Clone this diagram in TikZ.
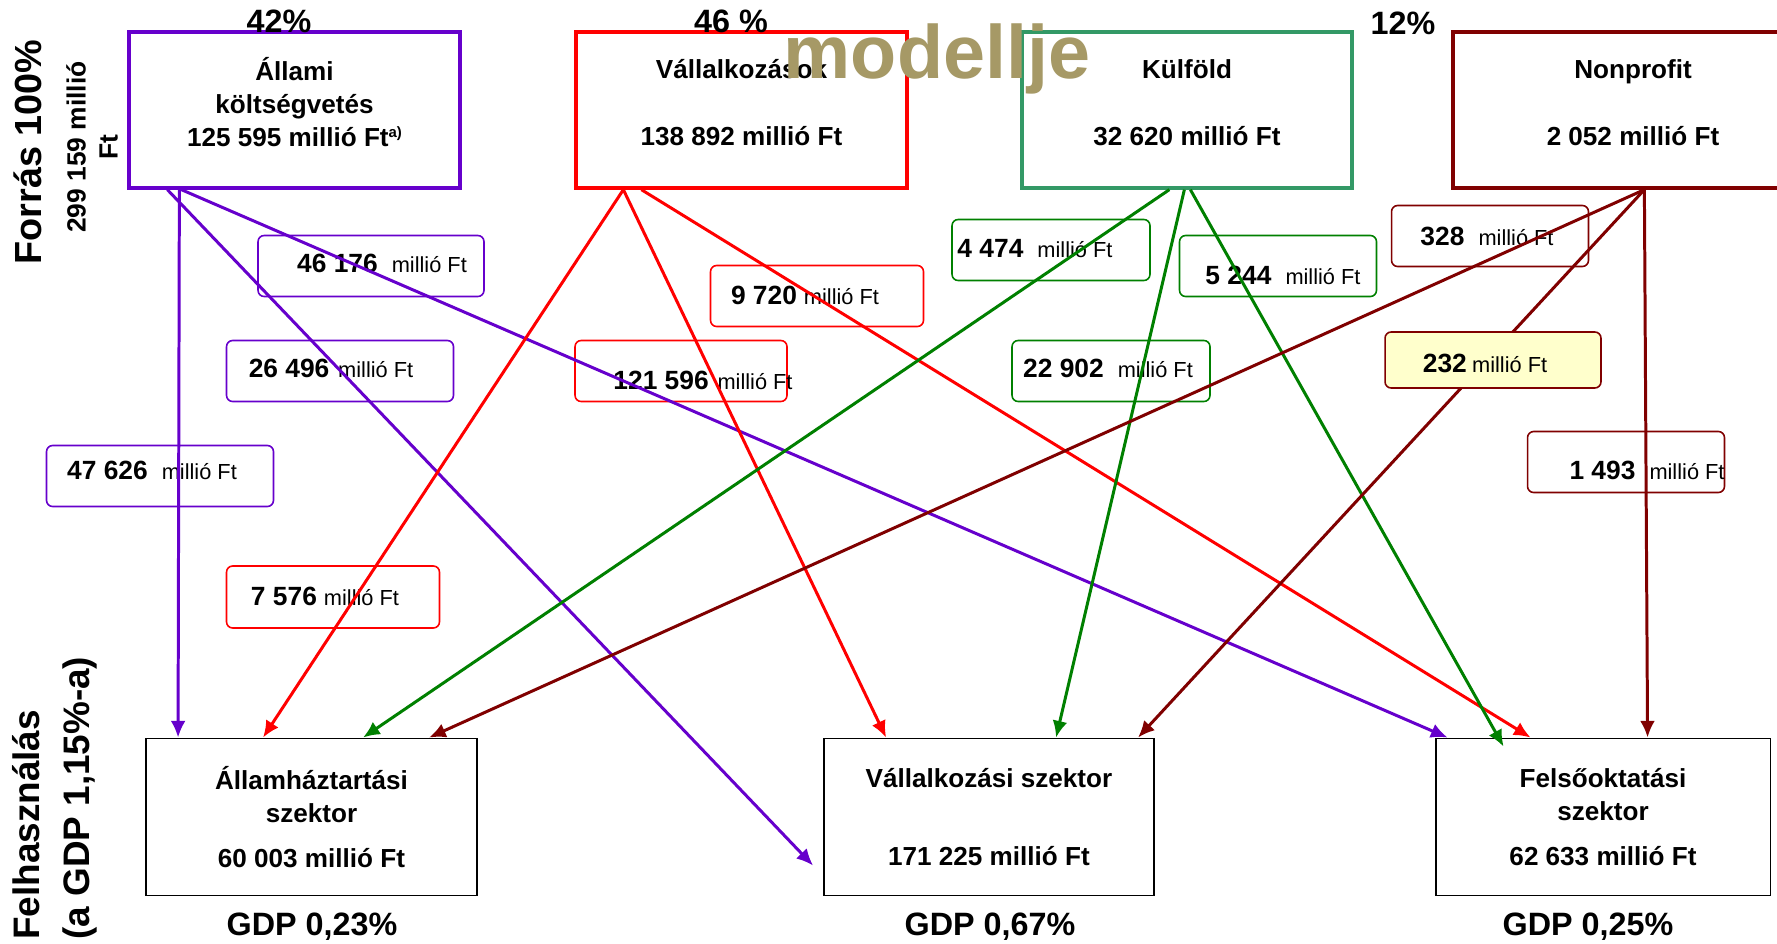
\documentclass[tikz,border=0pt]{standalone}
\usepackage{fontspec}
\setmainfont{Liberation Sans}
\usetikzlibrary{arrows.meta}
\usetikzlibrary{calc}

\definecolor{allamcol}{RGB}{102,0,204}
\definecolor{vallcol}{RGB}{255,0,0}
\definecolor{kulfcol}{RGB}{0,128,0}
\definecolor{kulfbox}{RGB}{51,153,102}
\definecolor{nonpcol}{RGB}{128,0,0}
\definecolor{sarga}{RGB}{255,255,204}
\definecolor{khaki}{RGB}{166,153,102}

\newcommand{\amt}[2][4pt]{\textbf{#2}\hspace{#1}{\fontsize{12.4}{14}\selectfont millió Ft}}

\begin{document}
\begin{tikzpicture}[x=0.02cm, y=-0.02cm,
    forras/.style={draw, line width=1.9pt, minimum width=6.62cm, minimum height=3.12cm, text depth=9pt, align=center, font=\fontsize{14.85}{18.8}\selectfont\bfseries},
    szektor/.style={draw, line width=1.1pt, minimum width=6.62cm, minimum height=3.14cm, align=center, font=\fontsize{14.85}{18.8}\selectfont\bfseries},
    osszeg/.style={draw, line width=0.9pt, rounded corners=3.5pt, minimum width=3.94cm, minimum height=1.22cm},
    felirat/.style={inner sep=0pt, font=\fontsize{15}{18}\selectfont},
    nyil/.style={line width=1.7pt, -{Latex[length=9.5pt, width=8.5pt]}},
    nagy/.style={inner sep=0pt, font=\fontsize{18.4}{22}\selectfont\bfseries}
]
\fill[white] (0,0) rectangle (1777,943);
\useasboundingbox (0,0) rectangle (1777,943);

% forrasok
\node[forras, draw=allamcol] (allami) at (294.5,110) {Állami\\költségvetés\\125 595 millió Ft\raisebox{5pt}{\fontsize{8.5}{9}\selectfont a)}};
\node[forras, draw=vallcol] (vallalk) at (741.5,110) {Vállalkozások\\[19.3pt]138 892 millió Ft};
\node[forras, draw=kulfbox, minimum width=6.6cm] (kulfold) at (1187,110) {Külföld\\[19.3pt]32 620 millió Ft};
\node[forras, draw=nonpcol, minimum width=7.2cm] (nonprofit) at (1633,110) {Nonprofit\\[19.3pt]2 052 millió Ft};

\node[nagy] (p42) at (279,21) {42\%};
\node[nagy] (p46) at (731,21) {46 \%};
\node[nagy] (p12) at (1403,23) {12\%};

% szektorok
\node[szektor] (ahsz) at (311.5,817) {Államháztartási\\szektor\\[6.8pt]60 003 millió Ft};
\node[szektor, minimum width=6.6cm] (vsz) at (989,817) {Vállalkozási szektor\\[25.6pt]171 225 millió Ft};
\node[szektor, minimum width=6.7cm] (fsz) at (1603,817) {Felsőoktatási\\szektor\\[6.8pt]62 633 millió Ft};

\node[nagy] (gdpa) at (312,927) {GDP 0,23\%};
\node[nagy] (gdpv) at (990,927) {GDP 0,67\%};
\node[nagy] (gdpf) at (1588,927) {GDP 0,25\%};

% bal oldali feliratok
\node[rotate=90, inner sep=0pt, font=\fontsize{21.5}{26}\selectfont\bfseries] (forrascim) at (28,152) {Forrás 100\%};
\node[rotate=90, inner sep=0pt, align=center, font=\fontsize{15}{18.2}\selectfont\bfseries] (forrasft) at (92,147) {299 159 millió\\Ft};
\node[rotate=90, anchor=west, inner sep=0pt, align=left, font=\fontsize{21}{28.5}\selectfont\bfseries] (felhaszn) at (55,940) {Felhasználás\\(a GDP 1,15\%-a)};

% osszegek
\node[osszeg, draw=allamcol, minimum width=4.52cm] (b46176) at (371,266) {};
\node[felirat] (t46176) at (382,263) {\amt[8pt]{46 176}};
\node[osszeg, draw=allamcol, minimum width=4.54cm] (b26496) at (340,371) {};
\node[felirat] (t26496) at (331,368) {\amt[5pt]{26 496}};
\node[osszeg, draw=allamcol, minimum width=4.54cm] (b47626) at (160,476) {};
\node[felirat] (t47626) at (152,470) {\amt[8pt]{47 626}};
\node[osszeg, draw=vallcol, minimum width=4.26cm, minimum height=1.24cm] (b7576) at (333,597) {};
\node[felirat] (t7576) at (325,596) {\amt{7 576}};
\node[osszeg, draw=vallcol, minimum width=4.26cm] (b9720) at (817,296) {};
\node[felirat] (t9720) at (805,295) {\amt{9 720}};
\node[osszeg, draw=vallcol, minimum width=4.24cm] (b121596) at (681,371) {};
\node[felirat] (t121596) at (703,380) {\amt[5pt]{121 596}};
\node[osszeg, draw=kulfcol, minimum width=3.96cm] (b4474) at (1051,250) {};
\node[felirat] (t4474) at (1035,249) {\amt[8pt]{4 474}};
\node[osszeg, draw=kulfcol] (b5244) at (1278,266) {};
\node[felirat] (t5244) at (1283,275) {\amt[8pt]{5 244}};
\node[osszeg, draw=kulfcol, minimum width=3.96cm] (b22902) at (1111,371) {};
\node[felirat] (t22902) at (1108,368) {\amt[8pt]{22 902}};
\node[osszeg, draw=nonpcol] (b328) at (1490,236) {};
\node[felirat] (t328) at (1487,236) {\amt[8pt]{328}};
\node[osszeg, draw=nonpcol] (b1493) at (1626,462) {};
\node[felirat] (t1493) at (1647,470) {\amt[8pt]{1 493}};

% nyilak
\draw[nyil, allamcol] ($(allami.south west)+(52,0)$) -- ($(ahsz.north west)+(33,0)$);
\draw[nyil, allamcol] ($(allami.south west)+(40,0)$) -- ($(vsz.north west)+(-10,128)$);
\draw[nyil, allamcol] ($(allami.south west)+(54,0)$) -- ($(fsz.north west)+(13,0)$);

\draw[nyil, vallcol] ($(vallalk.south west)+(49,0)$) -- ($(ahsz.north west)+(118,0)$);
\draw[nyil, vallcol] ($(vallalk.south west)+(49,0)$) -- ($(vsz.north west)+(63,0)$);
\draw[nyil, vallcol] ($(vallalk.south west)+(67,0)$) -- ($(fsz.north west)+(96,0)$);

\draw[nyil, kulfcol] ($(kulfold.south west)+(149,0)$) -- ($(ahsz.north west)+(218,0)$);
\draw[nyil, kulfcol] ($(kulfold.south west)+(164,0)$) -- ($(vsz.north west)+(233,0)$);
\draw[nyil, kulfcol] ($(kulfold.south west)+(170,0)$) -- ($(fsz.north west)+(69,9)$);

\draw[nyil, nonpcol] ($(nonprofit.south west)+(193,0)$) -- ($(ahsz.north west)+(284,0)$);
\draw[nyil, nonpcol] ($(nonprofit.south west)+(193,0)$) -- ($(vsz.north west)+(315,0)$);
\draw[nyil, nonpcol] ($(nonprofit.south west)+(193,0)$) -- ($(fsz.north west)+(213,0)$);

\node[osszeg, draw=nonpcol, fill=sarga, minimum width=4.32cm, minimum height=1.12cm] (b232) at (1493,360) {};
\node[felirat] (t232) at (1485,363) {\amt[3pt]{232}};

\node[inner sep=0pt, anchor=base, text=khaki, font=\fontsize{43}{50}\selectfont\bfseries] (cim) at (937,78) {modellje};
\end{tikzpicture}
\end{document}
